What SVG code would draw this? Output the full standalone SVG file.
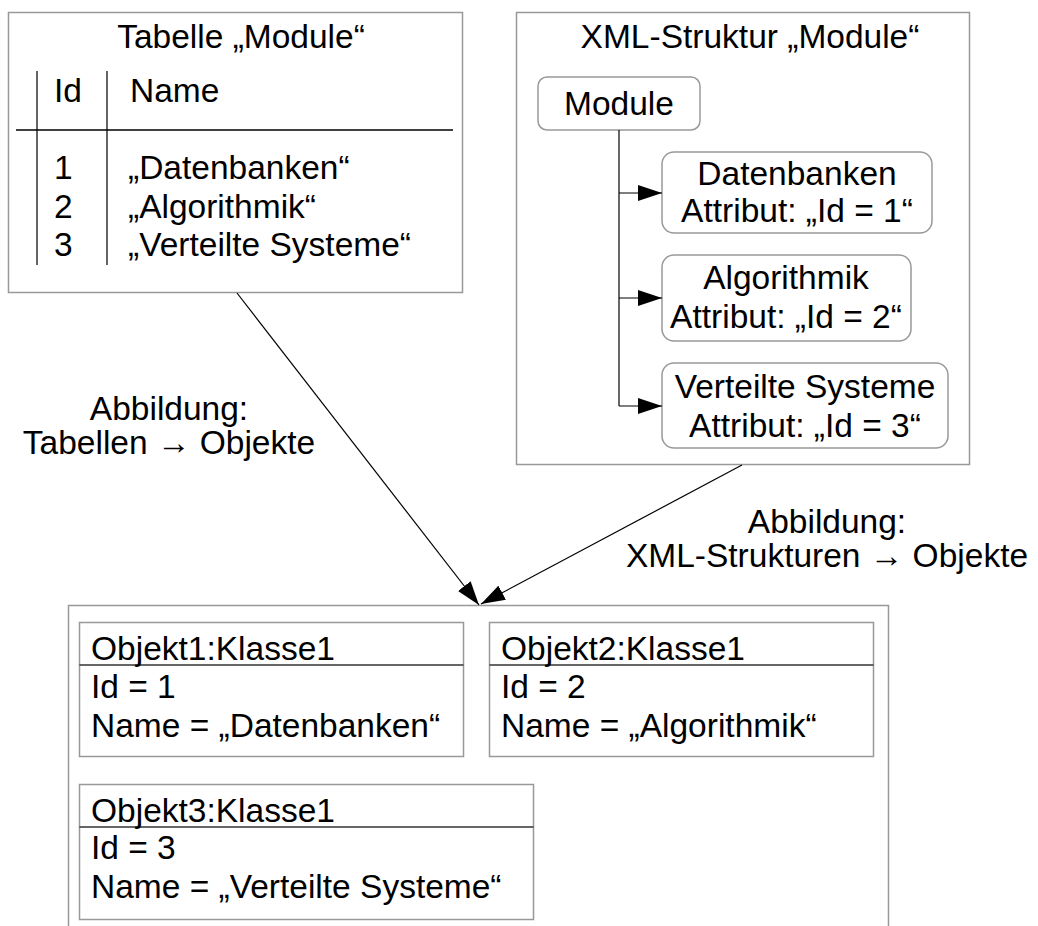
<svg xmlns="http://www.w3.org/2000/svg" width="1038" height="926" viewBox="0 0 1038 926">
<style>
  text { font-family: "Liberation Sans", Arial, "DejaVu Sans", sans-serif; font-size: 33.5px; fill: #000; }
  .mid { text-anchor: middle; }
  .box { fill: #fff; stroke: #999; stroke-width: 1.5; }
  .rbox { fill: #fff; stroke: #999; stroke-width: 1.5; }
  .dark { stroke: #333; stroke-width: 1.5; fill: none; }
  .conn { stroke: #000; stroke-width: 1.2; fill: none; }
</style>
<defs>
  <marker id="arr" markerUnits="userSpaceOnUse" markerWidth="24" markerHeight="16" refX="24" refY="8" orient="auto">
    <path d="M0,0 L24,8 L0,16 z" fill="#000"/>
  </marker>
</defs>
<rect width="1038" height="926" fill="#fff"/>

<g id="table-module">
  <rect class="box" x="8.5" y="12.5" width="454" height="280"/>
  <text class="mid" x="241" y="48">Tabelle „Module“</text>
  <line class="dark" x1="37" y1="71" x2="37" y2="265"/>
  <line class="dark" x1="107" y1="71" x2="107" y2="265"/>
  <line x1="16" y1="130" x2="453" y2="130" stroke="#000" stroke-width="1.3"/>
  <text x="54" y="102">Id</text>
  <text x="130" y="102">Name</text>
  <text x="54" y="179">1</text>
  <text x="54" y="218">2</text>
  <text x="54" y="256">3</text>
  <text x="128" y="179">„Datenbanken“</text>
  <text x="128" y="218">„Algorithmik“</text>
  <text x="128" y="256">„Verteilte Systeme“</text>
</g>

<g id="xml-module">
  <rect class="box" x="516.5" y="12.5" width="453" height="452"/>
  <text class="mid" x="750" y="48">XML-Struktur „Module“</text>
</g>

<g id="node-module">
  <rect class="rbox" x="538" y="77" width="162" height="53" rx="9"/>
  <text class="mid" x="619" y="115">Module</text>
</g>

<g id="node-datenbanken">
  <rect class="rbox" x="662" y="152" width="270" height="81" rx="12"/>
  <text class="mid" x="797" y="185">Datenbanken</text>
  <text class="mid" x="797" y="222">Attribut: „Id = 1“</text>
</g>

<g id="node-algorithmik">
  <rect class="rbox" x="662" y="255" width="249" height="86" rx="12"/>
  <text class="mid" x="786" y="289">Algorithmik</text>
  <text class="mid" x="786" y="328">Attribut: „Id = 2“</text>
</g>

<g id="node-verteilte">
  <rect class="rbox" x="662" y="363" width="286" height="85" rx="12"/>
  <text class="mid" x="805" y="398">Verteilte Systeme</text>
  <text class="mid" x="805" y="437">Attribut: „Id = 3“</text>
</g>

<g id="objects-container">
  <path d="M68.5,930 V605.5 H888.5 V930" fill="none" stroke="#999" stroke-width="1.5"/>
</g>

<g id="objekt1">
  <rect class="box" x="79.5" y="622.5" width="384" height="134"/>
  <line class="dark" x1="79.5" y1="665" x2="463.5" y2="665"/>
  <text x="91" y="660">Objekt1:Klasse1</text>
  <text x="91" y="698">Id = 1</text>
  <text x="91" y="737">Name = „Datenbanken“</text>
</g>

<g id="objekt2">
  <rect class="box" x="489.5" y="622.5" width="384" height="134"/>
  <line class="dark" x1="489.5" y1="665" x2="873.5" y2="665"/>
  <text x="501" y="660">Objekt2:Klasse1</text>
  <text x="501" y="698">Id = 2</text>
  <text x="501" y="737">Name = „Algorithmik“</text>
</g>

<g id="objekt3">
  <rect class="box" x="79.5" y="784.5" width="454" height="135"/>
  <line class="dark" x1="79.5" y1="827" x2="533.5" y2="827"/>
  <text x="91" y="822">Objekt3:Klasse1</text>
  <text x="91" y="859">Id = 3</text>
  <text x="91" y="898">Name = „Verteilte Systeme“</text>
</g>

<g id="labels">
  <text class="mid" x="169" y="420">Abbildung:</text>
  <text class="mid" x="169" y="454">Tabellen → Objekte</text>
  <text class="mid" x="827" y="533">Abbildung:</text>
  <text class="mid" x="827" y="567">XML-Strukturen → Objekte</text>
</g>

<g id="connectors">
  <path class="conn" d="M619,130 V406"/>
  <line class="conn" x1="619" y1="193" x2="662" y2="193" marker-end="url(#arr)"/>
  <line class="conn" x1="619" y1="298" x2="662" y2="298" marker-end="url(#arr)"/>
  <line class="conn" x1="619" y1="406" x2="662" y2="406" marker-end="url(#arr)"/>
  <line class="conn" x1="237" y1="293" x2="479" y2="605" marker-end="url(#arr)"/>
  <line class="conn" x1="742" y1="465" x2="481" y2="604" marker-end="url(#arr)"/>
</g>
</svg>
